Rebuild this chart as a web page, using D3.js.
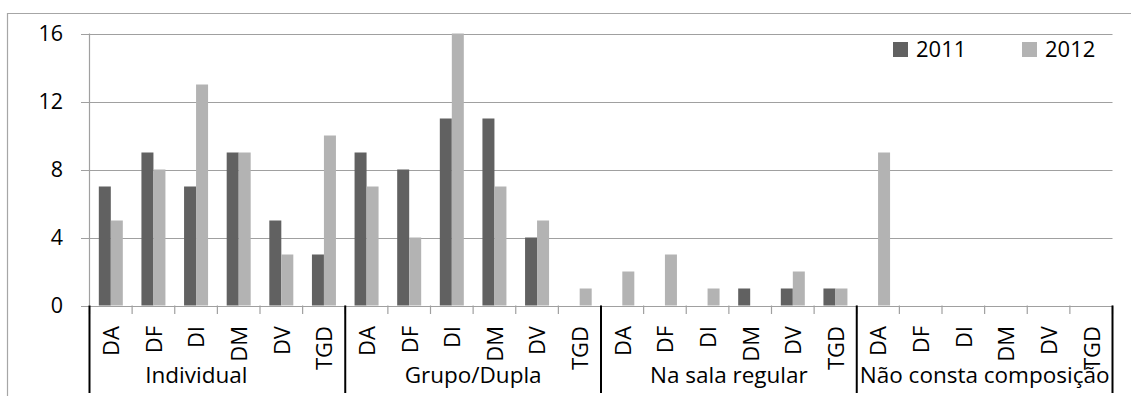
<!DOCTYPE html>
<html>
<head>
<meta charset="utf-8">
<script src="https://cdn.jsdelivr.net/npm/d3@7"></script>
<style>
  html, body { margin: 0; padding: 0; background: #fff; }
  svg { display: block; font-family: "Open Sans", "Noto Sans", sans-serif; }
</style>
</head>
<body>
<svg id="chart" width="1131" height="396"></svg>
<script>
// Groups of placement and the disability codes inside each
const groups = ["Individual", "Grupo/Dupla", "Na sala regular", "Não consta composição"];
const codes = ["DA", "DF", "DI", "DM", "DV", "TGD"];
const seriesNames = ["2011", "2012"];

// Counts per code, one array per group, for each year
const values2011 = [
  [7, 9, 7, 9, 5, 3],
  [9, 8, 11, 11, 4, 0],
  [0, 0, 0, 1, 1, 1],
  [0, 0, 0, 0, 0, 0]
];
const values2012 = [
  [5, 8, 13, 9, 3, 10],
  [7, 4, 16, 7, 5, 1],
  [2, 3, 1, 0, 2, 1],
  [9, 0, 0, 0, 0, 0]
];
const yTicks = [0, 4, 8, 12, 16];

const colors = { "2011": "#616161", "2012": "#b3b3b3" };

const svg = d3.select("#chart");
const plotLeft = 89.5, plotRight = 1112.5, plotTop = 33.5, plotBottom = 305.5;

// Flatten into one row per category slot
const rows = [];
groups.forEach((g, gi) => {
  codes.forEach((c, ci) => {
    rows.push({ key: gi + "|" + c, group: g, gi, code: c,
      "2011": values2011[gi][ci], "2012": values2012[gi][ci] });
  });
});

const x = d3.scaleBand().domain(rows.map(r => r.key)).range([plotLeft, plotRight]).paddingInner(0).paddingOuter(0);
const bw = x.bandwidth();
const barW = 12;
const x1 = d3.scaleBand().domain(seriesNames).range([0, bw])
  .paddingInner(0).paddingOuter((bw / barW - 2) / 2);
const y = d3.scaleLinear().domain([0, 16]).range([plotBottom, plotTop]);

// Outer frame
svg.append("path")
  .attr("d", `M7.5,396 L7.5,13.5 L1131,13.5`)
  .attr("fill", "none").attr("stroke", "#a6a6a6").attr("stroke-width", 1.2);

// Horizontal gridlines with short outer ticks
svg.append("g").selectAll("line").data(yTicks).join("line")
  .attr("x1", 81).attr("x2", plotRight)
  .attr("y1", d => Math.round(y(d)) + 0.5).attr("y2", d => Math.round(y(d)) + 0.5)
  .attr("stroke", "#a0a0a0").attr("stroke-width", 1.2);

// Y axis line
svg.append("line").attr("x1", plotLeft).attr("x2", plotLeft).attr("y1", plotTop).attr("y2", plotBottom)
  .attr("stroke", "#a0a0a0").attr("stroke-width", 1.2);

// Y tick labels
svg.append("g").selectAll("text").data(yTicks).join("text")
  .attr("x", 63).attr("y", d => y(d)).attr("dy", "0.36em")
  .attr("text-anchor", "end").attr("font-size", 21.5).attr("fill", "#000")
  .text(d => d);

// Bars
const slot = svg.append("g").selectAll("g").data(rows).join("g")
  .attr("transform", d => `translate(${x(d.key)},0)`);
slot.selectAll("rect").data(d => seriesNames.map(s => ({ s, v: d[s] }))).join("rect")
  .attr("x", d => x1(d.s)).attr("width", x1.bandwidth())
  .attr("y", d => y(d.v)).attr("height", d => y(0) - y(d.v))
  .attr("fill", d => colors[d.s]);

// Minor ticks between categories
const boundaries = rows.map(r => x(r.key)).concat([plotRight]);
svg.append("g").selectAll("line").data(boundaries).join("line")
  .attr("x1", d => d).attr("x2", d => d).attr("y1", plotBottom).attr("y2", 314)
  .attr("stroke", "#a0a0a0").attr("stroke-width", 1.2);

// Group separators
const sepX = groups.map((g, gi) => x(gi + "|" + codes[0])).concat([plotRight]);
svg.append("g").selectAll("line").data(sepX).join("line")
  .attr("x1", d => d).attr("x2", d => d).attr("y1", plotBottom).attr("y2", 393)
  .attr("stroke", "#000").attr("stroke-width", 2);

// Rotated category labels
svg.append("g").selectAll("text").data(rows).join("text")
  .attr("transform", d => `translate(${x(d.key) + bw / 2 + 0.5},326) rotate(-90)`)
  .attr("dy", "0.36em").attr("text-anchor", "end")
  .attr("font-size", 22).attr("fill", "#000")
  .text(d => d.code);

// Group labels (the first one sits left of its group's centre)
svg.append("g").selectAll("text").data(groups).join("text")
  .attr("x", (d, i) => (sepX[i] + sepX[i + 1]) / 2 + (i === 0 ? -21 : 0)).attr("y", 383)
  .attr("text-anchor", "middle").attr("font-size", 22.5).attr("fill", "#000")
  .text(d => d);

// Legend
const legendX = [893, 1022];
const legend = svg.append("g").selectAll("g").data(seriesNames).join("g")
  .attr("transform", (d, i) => `translate(${legendX[i]},42)`);
legend.append("rect").attr("width", 15).attr("height", 15).attr("fill", d => colors[d]);
legend.append("text").attr("x", 23).attr("y", 15).attr("font-size", 22).attr("fill", "#000").text(d => d);
</script>
</body>
</html>
